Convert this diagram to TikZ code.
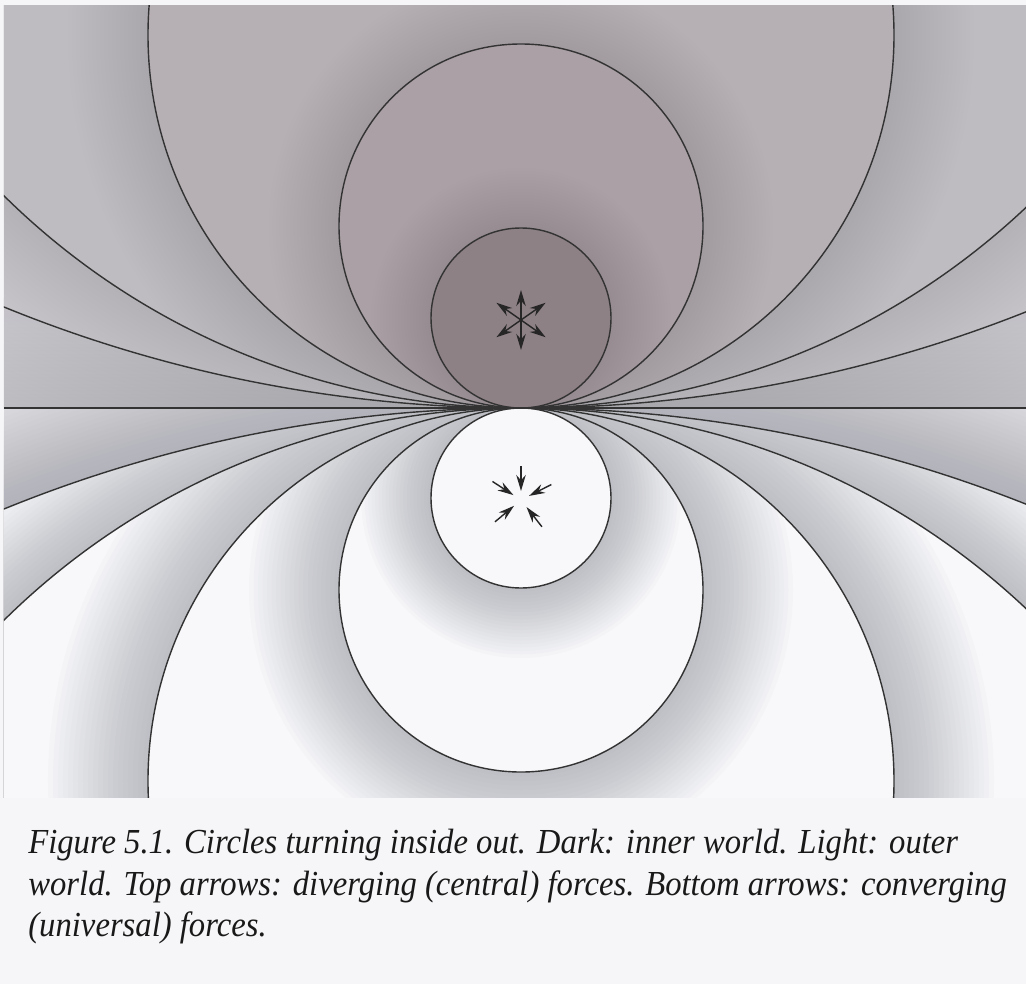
\documentclass[tikz,border=0pt]{standalone}
\usepackage{fontspec}
\newfontfamily\capfont{Liberation Serif}[FakeStretch=0.93]
\usepackage{tikz}
\usetikzlibrary{arrows.meta, calc}

\definecolor{paper}{RGB}{246,246,248}
\definecolor{wedgeup}{RGB}{220,220,225}
\definecolor{lineup}{RGB}{188,187,192}
\definecolor{ringa}{RGB}{200,198,203}
\definecolor{ringb}{RGB}{191,188,193}
\definecolor{ringc}{RGB}{182,175,180}
\definecolor{ringd}{RGB}{170,160,165}
\definecolor{inner}{RGB}{142,129,134}
\definecolor{darkhalo}{RGB}{95,85,92}
\definecolor{wedgelo}{RGB}{216,216,221}
\definecolor{outer}{RGB}{248,248,250}
\definecolor{lighthalo}{RGB}{130,132,142}

\begin{document}
\begin{tikzpicture}[x=0.02cm, y=0.02cm,
  rim/.style={black!80, line width=0.8pt},
  force/.style={black!85, line width=0.8pt, -{Stealth[length=3.2mm, width=1.9mm]}},
  caption/.style={font=\capfont\itshape\fontsize{20}{23.5}\selectfont, text=black!90, align=left, inner sep=0pt}]
  % page
  \useasboundingbox (-521,-576) rectangle (505,408);
  \fill[paper] (-521,-576) rectangle (505,408);

  % the common tangent point and the line through it
  \coordinate (T) at (0,0);
  \coordinate (west) at (-517,0);
  \coordinate (east) at (505,0);

  % upper half: inner world, darker inwards
  \begin{scope}
    \clip (-517,0) rectangle (505,402);
    \shade[top color=wedgeup, bottom color=lineup] (-517,0) rectangle (505,110);
    \foreach \k in {1,...,20}
      \fill[darkhalo, opacity=0.008] (0,1369) circle ({1369+\k*4.5});
    \fill[ringa] (0,1369) circle (1369);
    \foreach \rad/\Rad/\col/\hw in {736/1369/ringb/90, 373/736/ringc/80, 182/373/ringd/70, 90/182/inner/60}
    {
      \begin{scope}
        \clip (0,\Rad) circle (\Rad);
        \foreach \k in {1,...,20}
          \fill[darkhalo, opacity=0.008] (0,\rad) circle ({\rad+\k*\hw/20});
        \fill[\col] (0,\rad) circle (\rad);
      \end{scope}
    }
  \end{scope}

  % lower half: outer world, light with soft shadows
  \begin{scope}
    \clip (-517,-389) rectangle (505,0);
    \fill[wedgelo] (-517,-389) rectangle (505,0);
    \foreach \k in {1,...,20}
      \fill[lighthalo, opacity=0.02] (0,-1369) circle ({1369+\k*4.5});
    \fill[outer] (0,-1369) circle (1369);
    \foreach \rad/\Rad/\hw in {736/1369/90, 373/736/100, 182/373/90, 90/182/70}
    {
      \begin{scope}
        \clip (0,-\Rad) circle (\Rad);
        \foreach \k in {1,...,20}
          \fill[lighthalo, opacity=0.026] (0,-\rad) circle ({\rad+\k*\hw/20});
        \fill[outer] (0,-\rad) circle (\rad);
      \end{scope}
    }
  \end{scope}

  % circles turning inside out
  \begin{scope}
    \clip (-517,-389) rectangle (505,402);
    \foreach \rad in {90,182,373,736,1369}
    {
      \draw[rim] (0,\rad) circle (\rad);
      \draw[rim] (0,-\rad) circle (\rad);
    }
    \draw[rim] (west) -- (east);
  \end{scope}

  % diverging forces
  \coordinate (up) at (0,88);
  \foreach \a in {90,35,145,215,325,270}
    \draw[force] (up) -- ++(\a:30);

  % converging forces
  \coordinate (down) at (0,-92);
  \foreach \a in {90,147,27,220,308}
    \draw[force] ($(down)+(\a:34)$) -- ($(down)+(\a:9)$);

  % caption
  \node[caption, anchor=north west] (caption) at (-493,-421)
    {Figure 5.1. Circles turning inside out. Dark: inner world. Light: outer\\
     world. Top arrows: diverging (central) forces. Bottom arrows: converging\\
     (universal) forces.};
\end{tikzpicture}
\end{document}
